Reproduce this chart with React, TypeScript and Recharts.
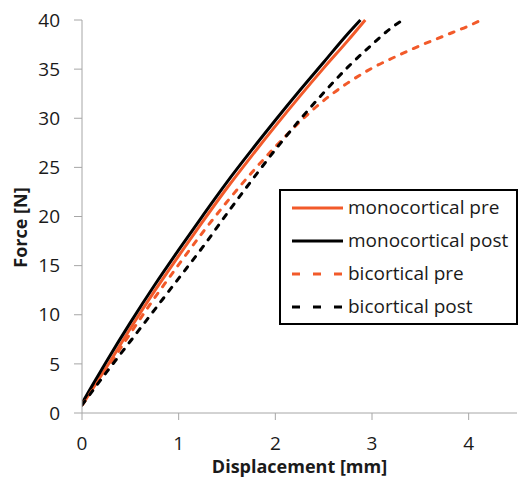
import { LineChart, Line, XAxis, YAxis, Legend, Label } from "recharts";

// displacement [mm], force [N]
const monocorticalPre: [number, number][] = [
  [0, 0.8], [0.1, 2.3], [0.25, 4.6], [0.5, 8.6], [0.75, 12.4], [1.0, 16.0],
  [1.25, 19.5], [1.5, 22.9], [1.75, 26.1], [2.0, 29.2], [2.25, 32.2],
  [2.5, 35.1], [2.75, 37.9], [2.93, 40],
];
const monocorticalPost: [number, number][] = [
  [0, 1.0], [0.1, 2.7], [0.25, 5.2], [0.5, 9.2], [0.75, 13.0], [1.0, 16.6],
  [1.25, 20.1], [1.5, 23.5], [1.75, 26.7], [2.0, 29.8], [2.25, 32.8],
  [2.5, 35.7], [2.75, 38.6], [2.88, 40],
];
const bicorticalPre: [number, number][] = [
  [0, 0.8], [0.25, 4.4], [0.5, 8.1], [0.75, 11.7], [1.0, 15.1], [1.25, 18.4],
  [1.5, 21.5], [1.75, 24.4], [2.0, 27.1], [2.25, 29.6], [2.5, 31.8],
  [2.75, 33.6], [3.0, 35.1], [3.25, 36.3], [3.5, 37.4], [3.75, 38.4],
  [4.0, 39.4], [4.13, 40],
];
const bicorticalPost: [number, number][] = [
  [0, 0.8], [0.25, 4.1], [0.5, 7.3], [0.75, 10.5], [1.0, 13.7], [1.25, 16.9],
  [1.5, 20.3], [1.75, 23.6], [2.0, 26.8], [2.25, 29.8], [2.5, 32.6],
  [2.75, 35.2], [3.0, 37.5], [3.2, 39.2], [3.32, 40],
];

const xTicks = [0, 1, 2, 3, 4];
const yTicks = [0, 5, 10, 15, 20, 25, 30, 35, 40];

const ORANGE = "#f25a2a";
const BLACK = "#000000";
const AXIS_GRAY = "#a6a6a6";
const TEXT = "#1a1a1a";
const FONT = "'Open Sans', sans-serif";

const toPoints = (pts: [number, number][]) => pts.map(([x, y]) => ({ x, y }));

const series = [
  { name: "monocortical pre", color: ORANGE, dashed: false, points: monocorticalPre },
  { name: "monocortical post", color: BLACK, dashed: false, points: monocorticalPost },
  { name: "bicortical pre", color: ORANGE, dashed: true, points: bicorticalPre },
  { name: "bicortical post", color: BLACK, dashed: true, points: bicorticalPost },
];

function LegendBox() {
  return (
    <div
      style={{
        width: 239,
        height: 136,
        boxSizing: "border-box",
        border: "2px solid #000",
        background: "#fff",
        paddingLeft: 11,
        fontFamily: FONT,
        fontSize: 19,
        color: TEXT,
      }}
    >
      {series.map((s) => (
        <div key={s.name} style={{ display: "flex", alignItems: "center", height: 33 }}>
          <svg width={51} height={6} style={{ marginRight: 5, flexShrink: 0 }}>
            <line
              x1={0}
              y1={3}
              x2={51}
              y2={3}
              stroke={s.color}
              strokeWidth={3}
              strokeDasharray={s.dashed ? "8 13" : undefined}
            />
          </svg>
          <span style={{ whiteSpace: "nowrap", lineHeight: "33px" }}>{s.name}</span>
        </div>
      ))}
    </div>
  );
}

export default function App() {
  return (
    <div style={{ position: "absolute", left: 0, top: 0, background: "#fff" }}>
      <LineChart
        width={520}
        height={480}
        margin={{ top: 20, right: 3, bottom: 0, left: 0 }}
        accessibilityLayer={false}
      >
        <XAxis
          type="number"
          dataKey="x"
          domain={[0, 4.5]}
          ticks={xTicks}
          allowDataOverflow
          height={67}
          tickSize={7}
          tickMargin={17}
          stroke={AXIS_GRAY}
          tick={{ fill: TEXT, fontSize: 19, fontFamily: FONT }}
        >
          <Label
            content={({ viewBox }: any) => (
              <text
                x={viewBox.x + viewBox.width / 2}
                y={viewBox.y + 60}
                textAnchor="middle"
                fontFamily={FONT}
                fontSize={18}
                fontWeight={700}
                fill={TEXT}
              >
                Displacement [mm]
              </text>
            )}
          />
        </XAxis>
        <YAxis
          type="number"
          dataKey="y"
          domain={[0, 40]}
          ticks={yTicks}
          width={82}
          tickSize={8}
          tickMargin={14}
          stroke={AXIS_GRAY}
          tick={{ fill: TEXT, fontSize: 19, fontFamily: FONT }}
        >
          <Label
            content={({ viewBox }: any) => {
              const cx = viewBox.x + 20;
              const cy = viewBox.y + viewBox.height / 2 + 11;
              return (
                <text
                  x={cx}
                  y={cy}
                  transform={`rotate(-90 ${cx} ${cy})`}
                  textAnchor="middle"
                  dominantBaseline="central"
                  fontFamily={FONT}
                  fontSize={18}
                  fontWeight={700}
                  fill={TEXT}
                >
                  Force [N]
                </text>
              );
            }}
          />
        </YAxis>
        <Legend
          layout="vertical"
          align="center"
          verticalAlign="middle"
          wrapperStyle={{ left: 279, top: 189, width: 239 }}
          content={() => <LegendBox />}
        />
        {series.map((s) => (
          <Line
            key={s.name}
            name={s.name}
            data={toPoints(s.points)}
            dataKey="y"
            type="monotone"
            stroke={s.color}
            strokeWidth={3}
            strokeDasharray={s.dashed ? "5 8" : undefined}
            strokeLinecap={s.dashed ? "round" : "butt"}
            dot={false}
            activeDot={false}
            isAnimationActive={false}
          />
        ))}
      </LineChart>
    </div>
  );
}
